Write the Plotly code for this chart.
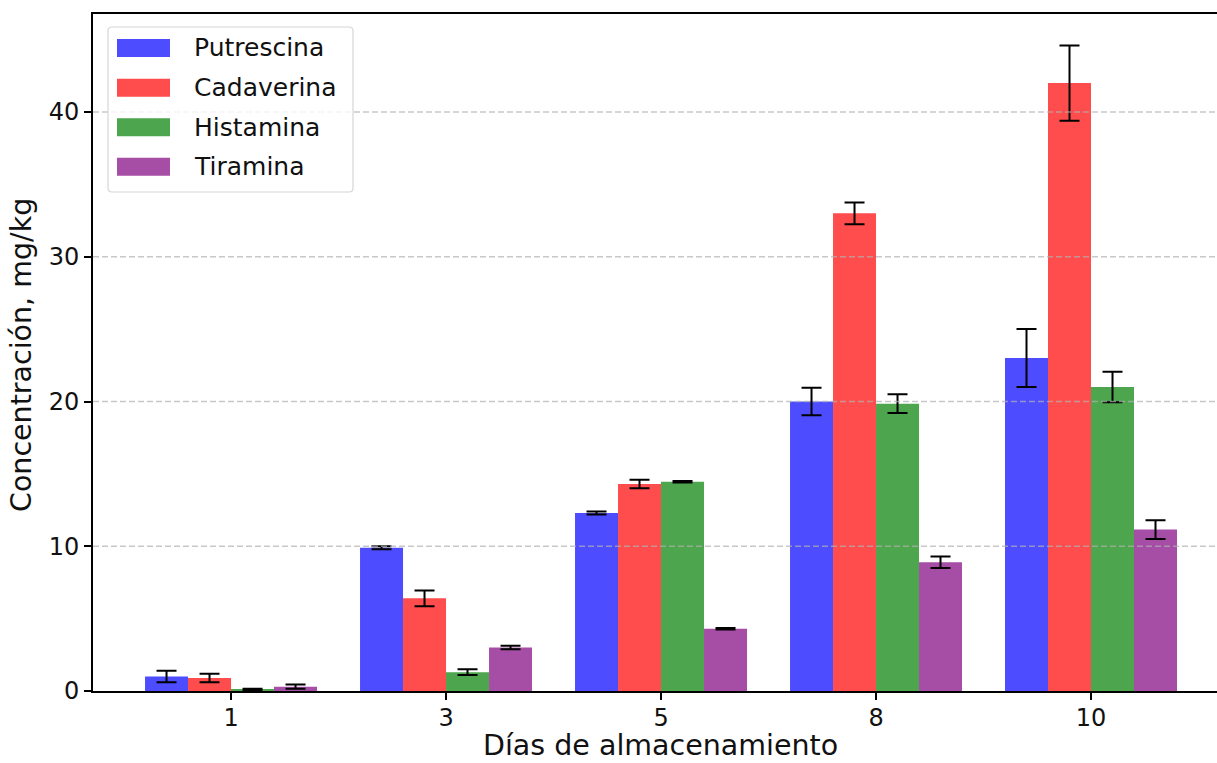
import plotly.graph_objects as go

# Storage days (categorical x axis)
days = ["1", "3", "5", "8", "10"]

# Mean concentrations (mg/kg) and standard deviations per biogenic amine
putrescina = [1.0, 9.9, 12.3, 20.0, 23.0]
putrescina_err = [0.4, 0.1, 0.1, 0.95, 2.0]
cadaverina = [0.9, 6.4, 14.3, 33.0, 42.0]
cadaverina_err = [0.3, 0.55, 0.3, 0.75, 2.6]
histamina = [0.1, 1.3, 14.45, 19.85, 21.0]
histamina_err = [0.05, 0.2, 0.05, 0.65, 1.05]
tiramina = [0.3, 3.0, 4.3, 8.9, 11.15]
tiramina_err = [0.15, 0.12, 0.05, 0.4, 0.65]

series_names = ["Putrescina", "Cadaverina", "Histamina", "Tiramina"]
series_values = [putrescina, cadaverina, histamina, tiramina]
series_errors = [putrescina_err, cadaverina_err, histamina_err, tiramina_err]
series_colors = ["#4d4dff", "#ff4d4d", "#4da64d", "#a64da6"]

y_ticks = [0, 10, 20, 30, 40]

W, H = 1217, 763
M_L, M_R, M_T, M_B = 93, 0, 14, 72
PW, PH = W - M_L - M_R, H - M_T - M_B
FONT = "DejaVu Sans"

fig = go.Figure()
for name, vals, errs, col in zip(series_names, series_values, series_errors, series_colors):
    fig.add_trace(go.Bar(
        x=days, y=vals, name=name,
        marker=dict(color=col, line=dict(width=0)),
        error_y=dict(type="data", array=errs, visible=True,
                     color="black", thickness=2, width=10),
        showlegend=False,
    ))


def px_x(px):
    return (px - M_L) / PW


def px_y(py):
    return (M_T + PH - py) / PH


shapes = []
# dashed horizontal grid drawn over the bars
for t in y_ticks[1:]:
    shapes.append(dict(type="line", xref="paper", yref="y", x0=0, x1=1, y0=t, y1=t,
                       line=dict(color="rgba(176,176,176,0.7)", width=1.4, dash="6px,3px"),
                       layer="above"))

# legend frame with rounded corners
x0, x1, y0, y1 = px_x(108), px_x(353), px_y(192), px_y(27)
rx, ry = 4 / PW, 4 / PH
path = (f"M{x0+rx},{y0} L{x1-rx},{y0} Q{x1},{y0} {x1},{y0+ry} "
        f"L{x1},{y1-ry} Q{x1},{y1} {x1-rx},{y1} L{x0+rx},{y1} "
        f"Q{x0},{y1} {x0},{y1-ry} L{x0},{y0+ry} Q{x0},{y0} {x0+rx},{y0} Z")
shapes.append(dict(type="path", xref="paper", yref="paper", path=path,
                   fillcolor="rgba(255,255,255,0.8)",
                   line=dict(color="#d6d6d6", width=1.2), layer="above"))

annotations = []
row_centers = [48, 87.7, 127.3, 166.7]
for name, col, cy in zip(series_names, series_colors, row_centers):
    shapes.append(dict(type="rect", xref="paper", yref="paper",
                       x0=px_x(117), x1=px_x(170), y0=px_y(cy + 9), y1=px_y(cy - 9),
                       fillcolor=col, line=dict(width=0), layer="above"))
    annotations.append(dict(xref="paper", yref="paper", x=px_x(192), y=px_y(cy),
                            text=name, showarrow=False, xanchor="left", yanchor="middle",
                            font=dict(family=FONT, size=25, color="#111")))

# axis titles
annotations.append(dict(xref="paper", yref="paper", x=px_x(660), y=px_y(746),
                        text="Días de almacenamiento", showarrow=False,
                        xanchor="center", yanchor="middle",
                        font=dict(family=FONT, size=28.5, color="#111")))
annotations.append(dict(xref="paper", yref="paper", x=px_x(22), y=px_y(355),
                        text="Concentración, mg/kg", showarrow=False, textangle=-90,
                        xanchor="center", yanchor="middle",
                        font=dict(family=FONT, size=28.5, color="#111")))

fig.update_layout(
    width=W, height=H,
    margin=dict(l=M_L, r=M_R, t=M_T, b=M_B, pad=0, autoexpand=False),
    paper_bgcolor="white", plot_bgcolor="white",
    barmode="group", bargap=0.2, bargroupgap=0,
    font=dict(family=FONT, size=25, color="#111"),
    shapes=shapes, annotations=annotations,
    showlegend=False,
)
fig.update_xaxes(
    type="category", range=[-0.642, 4.586], automargin=False,
    showline=True, linecolor="black", linewidth=1.6, mirror=True,
    ticks="outside", ticklen=7, tickwidth=1.6, tickcolor="black",
    ticklabelstandoff=-3,
    showgrid=False, zeroline=False,
    tickfont=dict(family=FONT, size=24),
)
fig.update_yaxes(
    range=[0, 46.77], tickvals=y_ticks, automargin=False,
    showline=True, linecolor="black", linewidth=1.6, mirror=False,
    ticks="outside", ticklen=7, tickwidth=1.6, tickcolor="black",
    showgrid=False, zeroline=False,
    tickfont=dict(family=FONT, size=24),
)

fig.write_html("out.html")
